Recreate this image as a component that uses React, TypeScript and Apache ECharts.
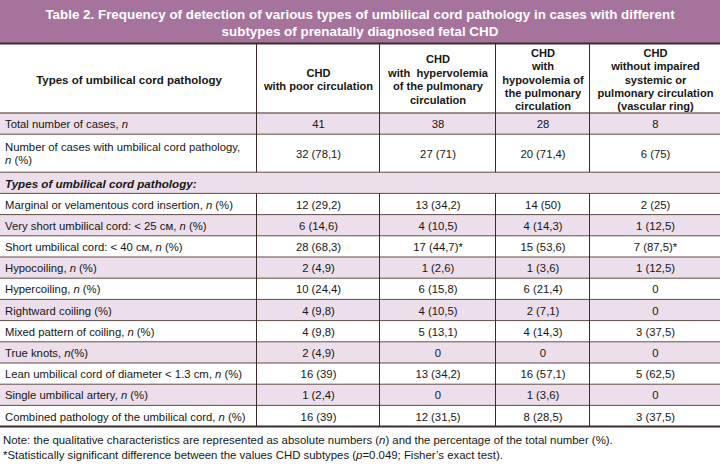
import React, { useEffect, useRef } from "react";
import * as echarts from "echarts";

const titleLines = [
  "Table 2. Frequency of detection of various types of umbilical cord pathology in cases with different",
  "subtypes of prenatally diagnosed fetal CHD",
];

const headerTexts = [
  "Types of umbilical cord pathology",
  "CHD\nwith poor circulation",
  "CHD\nwith  hypervolemia\nof the pulmonary\ncirculation",
  "CHD\nwith\nhypovolemia of\nthe pulmonary\ncirculation",
  "CHD\nwithout impaired\nsystemic or\npulmonary circulation\n(vascular ring)",
];

const rowLabels = [
  "Total number of cases, {i|n}",
  "Number of cases with umbilical cord pathology,\n{i|n} (%)",
  "{bi|Types of umbilical cord pathology:}",
  "Marginal or velamentous cord insertion, {i|n} (%)",
  "Very short umbilical cord: < 25 см, {i|n} (%)",
  "Short umbilical cord: < 40 см, {i|n} (%)",
  "Hypocoiling, {i|n} (%)",
  "Hypercoiling, {i|n} (%)",
  "Rightward coiling (%)",
  "Mixed pattern of coiling, {i|n} (%)",
  "True knots, {i|n}(%)",
  "Lean umbilical cord of diameter < 1.3 cm, {i|n} (%)",
  "Single umbilical artery, {i|n} (%)",
  "Combined pathology of the umbilical cord, {i|n} (%)",
];

// counts (n) and percentages per subtype column; null = not shown
const poorN = [41, 32, null, 12, 6, 28, 2, 10, 4, 4, 2, 16, 1, 16];
const poorPct = [null, 78.1, null, 29.2, 14.6, 68.3, 4.9, 24.4, 9.8, 9.8, 4.9, 39, 2.4, 39];
const hyperN = [38, 27, null, 13, 4, 17, 1, 6, 4, 5, 0, 13, 0, 12];
const hyperPct = [null, 71, null, 34.2, 10.5, 44.7, 2.6, 15.8, 10.5, 13.1, null, 34.2, null, 31.5];
const hypoN = [28, 20, null, 14, 4, 15, 1, 6, 2, 4, 0, 16, 1, 8];
const hypoPct = [null, 71.4, null, 50, 14.3, 53.6, 3.6, 21.4, 7.1, 14.3, null, 57.1, 3.6, 28.5];
const ringN = [8, 6, null, 2, 1, 7, 1, 0, 0, 3, 0, 5, 0, 3];
const ringPct = [null, 75, null, 25, 12.5, 87.5, 12.5, null, null, 37.5, null, 62.5, null, 37.5];
const hyperSig = [0, 0, 0, 0, 0, 1, 0, 0, 0, 0, 0, 0, 0, 0];
const ringSig = [0, 0, 0, 0, 0, 1, 0, 0, 0, 0, 0, 0, 0, 0];

const noteLines = [
  "Note: the qualitative characteristics are represented as absolute numbers ({i|n}) and the percentage of the total number (%).",
  "*Statistically significant difference between the values CHD subtypes ({i|p}=0.049; Fisher’s exact test).",
];

const FONT = "Liberation Sans";
const PURPLE = "#a5739b";
const SHADE = "#ecdeea";
const LINE = "#5e4d48";
const DARK = "#3a2c2a";
const INK = "#161616";

function fmt(n: number | null, p: number | null, sig: number): string {
  if (n === null) return "";
  let s = String(n);
  if (p !== null) s += " (" + String(p).replace(".", ",") + ")";
  if (sig) s += "*";
  return s;
}

export default function App() {
  const ref = useRef<HTMLDivElement>(null);
  useEffect(() => {
    if (!ref.current) return;
    const chart = echarts.init(ref.current, null, { renderer: "svg" });
    const W = 720;
    const colX = [0, 256, 379, 495, 589, 720];
    const titleH = 43;
    const headTop = 44;
    const headBot = 113;
    const rowH = 21.2;
    const tallH = 38;
    const heights = rowLabels.map((_, i) => (i === 1 ? tallH : rowH));
    const tops: number[] = [];
    let y = headBot;
    heights.forEach((h) => {
      tops.push(y);
      y += h;
    });
    const tableBot = y;

    const els: any[] = [];
    els.push({ type: "rect", shape: { x: 0, y: 0, width: W, height: titleH }, style: { fill: PURPLE }, z: 1 });
    titleLines.forEach((t, i) => {
      els.push({
        type: "text",
        z: 5,
        style: {
          text: t, x: W / 2, y: 14 + i * 17, textAlign: "center", textVerticalAlign: "middle",
          fill: "#ffffff", fontFamily: FONT, fontWeight: "bold", fontSize: 13.4,
        },
      });
    });
    tops.forEach((t, i) => {
      if (i % 2 === 0) {
        els.push({ type: "rect", shape: { x: 0, y: t, width: W, height: heights[i] }, style: { fill: SHADE }, z: 1 });
      }
    });
    tops.forEach((t, i) => {
      if (i === 0) return;
      els.push({ type: "line", shape: { x1: 0, y1: t, x2: W, y2: t }, style: { stroke: LINE, lineWidth: 1 }, z: 3 });
    });
    els.push({ type: "line", shape: { x1: 0, y1: headBot, x2: W, y2: headBot }, style: { stroke: "#7a6a64", lineWidth: 1.5 }, z: 3 });
    els.push({ type: "line", shape: { x1: 0, y1: titleH + 0.5, x2: W, y2: titleH + 0.5 }, style: { stroke: DARK, lineWidth: 2 }, z: 3 });
    els.push({ type: "line", shape: { x1: 0, y1: tableBot, x2: W, y2: tableBot }, style: { stroke: DARK, lineWidth: 2 }, z: 3 });
    const secTop = tops[2];
    const secBot = tops[2] + heights[2];
    for (let c = 1; c < 5; c++) {
      const x = colX[c] + 0.5;
      els.push({ type: "line", shape: { x1: x, y1: titleH + 1, x2: x, y2: secTop }, style: { stroke: DARK, lineWidth: 1 }, z: 4 });
      els.push({ type: "line", shape: { x1: x, y1: secBot, x2: x, y2: tableBot }, style: { stroke: DARK, lineWidth: 1 }, z: 4 });
    }
    const headMid = (headTop + headBot) / 2 + 1;
    headerTexts.forEach((t, c) => {
      els.push({
        type: "text",
        z: 5,
        style: {
          text: t, x: (colX[c] + colX[c + 1]) / 2 + 1, y: headMid, textAlign: "center", textVerticalAlign: "middle",
          fill: INK, fontFamily: FONT, fontWeight: "bold", fontSize: c === 0 ? 11.5 : 11.1, lineHeight: 13.4,
        },
      });
    });
    const rich = {
      i: { fontStyle: "italic", fontFamily: FONT, fontSize: 11.3, fill: INK },
      bi: { fontStyle: "italic", fontWeight: "bold", fontFamily: FONT, fontSize: 11.6, fill: INK },
    };
    const noteRich = {
      i: { fontStyle: "italic", fontFamily: FONT, fontSize: 11.4, fill: INK },
    };
    const cols = [
      [poorN, poorPct, poorN.map(() => 0)],
      [hyperN, hyperPct, hyperSig],
      [hypoN, hypoPct, hypoN.map(() => 0)],
      [ringN, ringPct, ringSig],
    ] as any[];
    rowLabels.forEach((lab, i) => {
      const mid = tops[i] + heights[i] / 2 + 0.5;
      els.push({
        type: "text",
        z: 5,
        style: {
          text: lab, x: 5, y: mid, textAlign: "left", textVerticalAlign: "middle",
          fill: INK, fontFamily: FONT, fontSize: 11.3, lineHeight: 13, rich,
        },
      });
      cols.forEach((col, c) => {
        const s = fmt(col[0][i], col[1][i], col[2][i]);
        if (!s) return;
        els.push({
          type: "text",
          z: 5,
          style: {
            text: s, x: (colX[c + 1] + colX[c + 2]) / 2 + 1, y: mid, textAlign: "center", textVerticalAlign: "middle",
            fill: INK, fontFamily: FONT, fontSize: 11.3,
          },
        });
      });
    });
    noteLines.forEach((t, i) => {
      els.push({
        type: "text",
        z: 5,
        style: {
          text: t, x: 3, y: tableBot + 13 + i * 15, textAlign: "left", textVerticalAlign: "middle",
          fill: INK, fontFamily: FONT, fontSize: 11.4, rich: noteRich,
        },
      });
    });

    chart.setOption({ animation: false, backgroundColor: "#ffffff", graphic: { elements: els } });
    return () => chart.dispose();
  }, []);
  return <div ref={ref} style={{ position: "fixed", left: 0, top: 0, width: 720, height: 470 }} />;
}
